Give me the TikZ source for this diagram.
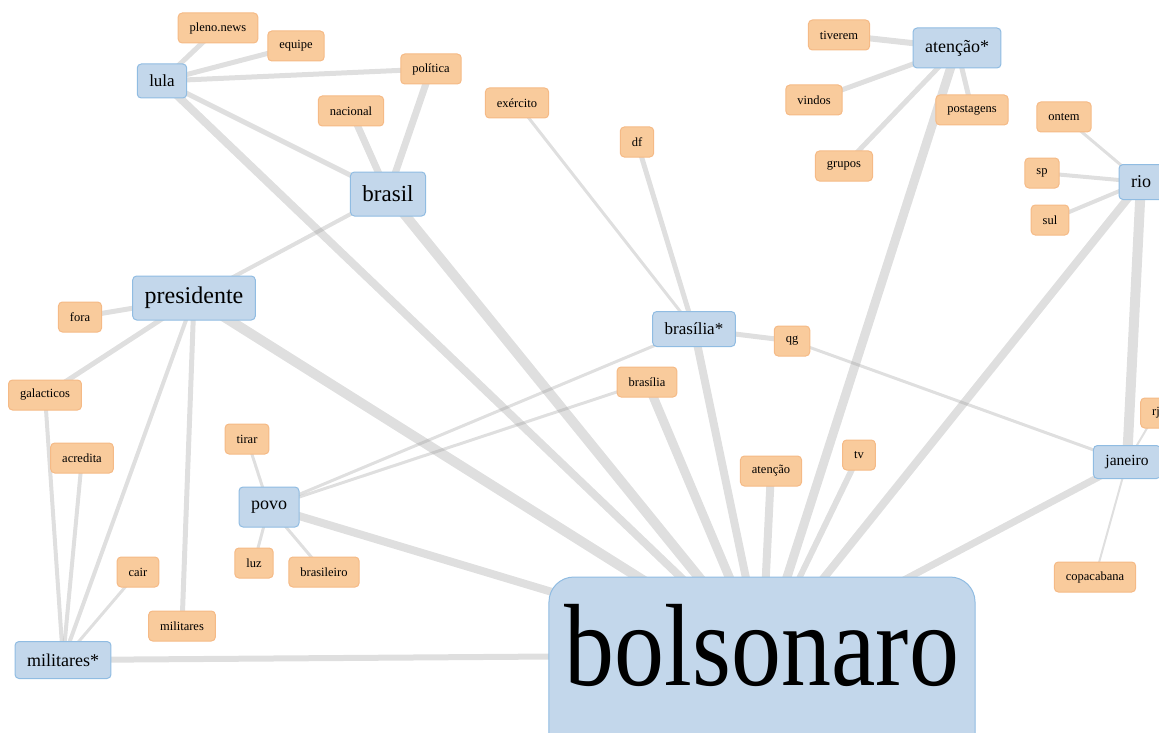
\documentclass[tikz,border=0pt]{standalone}
\usepackage{fontspec}
\setmainfont{Liberation Serif}
\newfontfamily\bolsofont[FakeStretch=0.854]{Liberation Serif}
\usetikzlibrary{backgrounds}
\definecolor{hubfill}{HTML}{C3D7EB}
\definecolor{hubline}{HTML}{90BCE2}
\definecolor{termfill}{HTML}{F9CB9C}
\definecolor{termline}{HTML}{F5BA86}
\definecolor{edgegray}{RGB}{150,150,150}

\begin{document}
\begin{tikzpicture}[x=1pt, y=-1pt]
        \tikzset{
            hub/.style 2 args={
                    draw=hubline, fill=hubfill, line width=1pt,
                    rounded corners=4pt, inner xsep=12pt, inner ysep=0pt,
                    font=\fontsize{#1}{#1}\selectfont, minimum height=#2pt
                },
            term/.style={
                    draw=termline, fill=termfill, line width=1pt,
                    rounded corners=4pt, inner xsep=11.5pt, inner ysep=0pt,
                    font=\fontsize{12.5}{12.5}\selectfont, minimum height=30pt
                },
            link/.style={draw=edgegray, draw opacity=0.3, line width=#1},
            link/.default=3pt
        }
        \useasboundingbox (0,0) rectangle (1159,733);
        \clip (0,0) rectangle (1159,733);
        % main term
        \node[draw=hubline, fill=hubfill, line width=1pt, rounded corners=25pt,
            inner xsep=16pt, inner ysep=28pt, text height=80pt, text depth=60pt,
            font=\bolsofont\fontsize{117}{117}\selectfont] (bolsonaro) at (762,675) {bolsonaro};
        \coordinate (bolsocore) at ([yshift=30pt]bolsonaro.base);
        % clusters
        \node[hub={17}{34}] (lula) at (162,81) {lula};
        \node[hub={23}{44}] (brasil) at (388,194) {brasil};
        \node[hub={24}{44}] (presidente) at (194,298) {presidente};
        \node[hub={17}{35}] (brasiliaS) at (694,329) {brasília*};
        \node[hub={18}{40}] (atencaoS) at (957,48) {atenção*};
        \node[hub={18}{35}] (rio) at (1141,182) {rio};
        \node[hub={15.5}{33}] (janeiro) at (1127,462) {janeiro};
        \node[hub={18}{40}] (povo) at (269,507) {povo};
        \node[hub={18}{37}] (militaresS) at (63,660) {militares*};
        % words
        \node[term] (pleno) at (218,28) {pleno.news};
        \node[term] (equipe) at (296,46) {equipe};
        \node[term] (politica) at (431,69) {política};
        \node[term] (nacional) at (351,111) {nacional};
        \node[term] (exercito) at (517,103) {exército};
        \node[term] (df) at (637,142) {df};
        \node[term] (tiverem) at (839,35) {tiverem};
        \node[term] (vindos) at (814,100) {vindos};
        \node[term] (postagens) at (972,110) {postagens};
        \node[term] (grupos) at (844,166) {grupos};
        \node[term] (ontem) at (1064,117) {ontem};
        \node[term] (sp) at (1042,173) {sp};
        \node[term] (sul) at (1050,220) {sul};
        \node[term] (fora) at (80,317) {fora};
        \node[term] (galacticos) at (45,395) {galacticos};
        \node[term] (acredita) at (82,458) {acredita};
        \node[term] (tirar) at (247,439) {tirar};
        \node[term] (luz) at (254,563) {luz};
        \node[term] (brasileiro) at (324,572) {brasileiro};
        \node[term] (cair) at (138,572) {cair};
        \node[term] (militares) at (182,626) {militares};
        \node[term] (brasilia) at (647,382) {brasília};
        \node[term] (qg) at (792,341) {qg};
        \node[term] (atencao) at (771,471) {atenção};
        \node[term] (tv) at (859,455) {tv};
        \node[term] (rj) at (1156,413) {rj};
        \node[term] (copacabana) at (1095,577) {copacabana};
        \begin{scope}[on background layer]
            \draw[link=5pt] (lula.center) -- (pleno.center);
            \draw[link=5pt] (lula.center) -- (equipe.center);
            \draw[link=5pt] (lula.center) -- (politica.center);
            \draw[link=5pt] (lula.center) -- (brasil.center);
            \draw[link=8pt] (lula.center) -- (bolsocore);
            \draw[link=7pt] (brasil.center) -- (nacional.center);
            \draw[link=7pt] (brasil.center) -- (politica.center);
            \draw[link=4pt] (brasil.center) -- (presidente.center);
            \draw[link=10pt] (brasil.center) -- (bolsocore);
            \draw[link=5pt] (presidente.center) -- (fora.center);
            \draw[link=5pt] (presidente.center) -- (galacticos.center);
            \draw[link=4pt] (presidente.center) -- (militaresS.center);
            \draw[link=5pt] (presidente.center) -- (militares.center);
            \draw[link=10pt] (presidente.center) -- (bolsocore);
            \draw[link=4pt] (galacticos.center) -- (militaresS.center);
            \draw[link=4pt] (acredita.center) -- (militaresS.center);
            \draw[link] (cair.center) -- (militaresS.center);
            \draw[link=6pt] (militaresS.center) -- (bolsocore);
            \draw[link] (povo.center) -- (tirar.center);
            \draw[link] (povo.center) -- (luz.center);
            \draw[link] (povo.center) -- (brasileiro.center);
            \draw[link] (povo.center) -- (brasiliaS.center);
            \draw[link] (povo.center) -- (brasilia.center);
            \draw[link=8pt] (povo.center) -- (bolsocore);
            \draw[link] (brasiliaS.center) -- (exercito.center);
            \draw[link=5pt] (brasiliaS.center) -- (df.center);
            \draw[link=5pt] (brasiliaS.center) -- (qg.center);
            \draw[link=8pt] (brasiliaS.center) -- (bolsocore);
            \draw[link] (qg.center) -- (janeiro.center);
            \draw[link=9pt] (brasilia.center) -- (bolsocore);
            \draw[link=8pt] (atencao.center) -- (bolsocore);
            \draw[link=6pt] (tv.center) -- (bolsocore);
            \draw[link=6pt] (atencaoS.center) -- (tiverem.center);
            \draw[link=5pt] (atencaoS.center) -- (vindos.center);
            \draw[link=5pt] (atencaoS.center) -- (postagens.center);
            \draw[link=5pt] (atencaoS.center) -- (grupos.center);
            \draw[link=9pt] (atencaoS.center) -- (bolsocore);
            \draw[link] (rio.center) -- (ontem.center);
            \draw[link=4pt] (rio.center) -- (sp.center);
            \draw[link=4pt] (rio.center) -- (sul.center);
            \draw[link=10pt] (rio.center) -- (janeiro.center);
            \draw[link=8pt] (rio.center) -- (bolsocore);
            \draw[link=2pt] (janeiro.center) -- (rj.center);
            \draw[link=2pt] (janeiro.center) -- (copacabana.center);
            \draw[link=7pt] (janeiro.center) -- (bolsocore);
        \end{scope}
    \end{tikzpicture}
\end{document}
